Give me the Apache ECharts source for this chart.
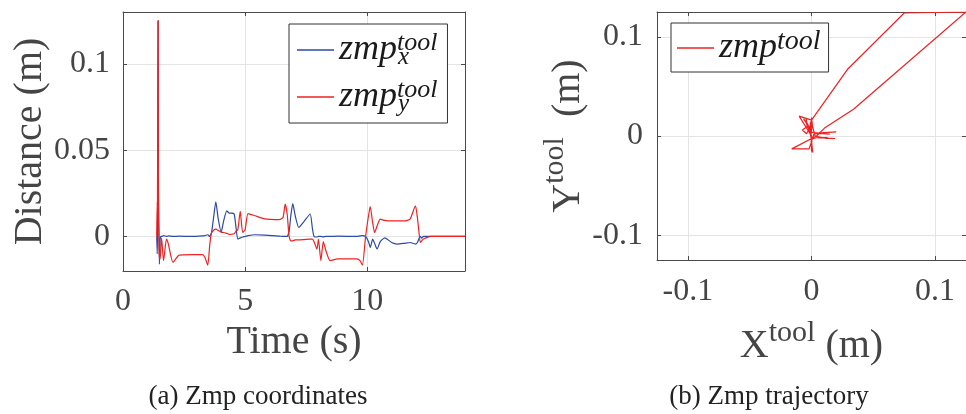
<!DOCTYPE html>
<html><head><meta charset="utf-8">
<script src="https://cdn.jsdelivr.net/npm/echarts@6/dist/echarts.min.js"></script>
<style>html,body{margin:0;padding:0;background:#fff}#c{width:966px;height:414px}</style>
</head><body><div id="c"></div>
<script>
// ---- data ----
const time = [
  1.38,1.40,1.41,1.42,1.43,1.44,1.45,1.46,1.47,1.49,
  1.52,1.55,1.58,1.66,1.78,1.85,2.05,2.30,2.80,3.25,
  3.35,3.47,3.55,3.62,3.70,3.80,3.90,4.02,4.12,4.25,
  4.35,4.45,4.55,4.62,4.70,4.80,4.90,5.00,5.12,5.40,
  5.80,6.40,6.55,6.64,6.72,6.80,6.87,6.95,7.05,7.20,
  7.40,7.66,7.75,7.82,7.94,8.00,8.10,8.20,8.30,8.48,
  8.79,9.58,9.70,9.80,9.93,10.05,10.12,10.22,10.30,10.40,
  10.53,10.72,11.00,11.22,11.50,11.75,11.97,12.05,12.12,12.17,
  12.23,12.30,12.60,13.20,14.00
];
const zmpX = [
  0,-0.010,0,0.029,0.075,0.125,0.034,0.0105,0.004,-0.016,
  -0.002,0,0,0.0005,0,0.0003,0,0.0002,0,0.0003,
  0.0005,0.001,0,0.002,0.010,0.020,0.010,0.0025,0.009,0.0148,
  0.0135,0.0135,0.013,0.006,-0.0015,-0.0008,-0.0003,0,0.0005,0.001,
  0.0008,0.0002,0,0,0,0.003,0.012,0.019,0.012,0.0052,
  0.0085,0.013,0.005,0,-0.0003,0,0,-0.0002,0,0,
  0.0002,0,0.0003,0.0005,0,-0.003,-0.0064,-0.0015,-0.004,-0.0073,
  -0.003,-0.0008,-0.0035,-0.0044,-0.004,-0.0035,-0.0044,-0.0035,-0.001,0,
  -0.001,0,0,0,0
];
const zmpY = [
  0,0.020,0.016,0.067,0.124,0.125,0.027,0.008,0,-0.013,
  -0.013,-0.006,-0.001,-0.014,-0.0015,-0.004,-0.015,-0.0108,-0.0105,-0.0105,
  -0.012,-0.0166,-0.005,0.002,0.0035,0.0042,0.0035,0.0025,0.0023,0.0018,
  0.0012,0.0013,0.0015,0.003,0.004,0.0145,0.0023,0.004,0.0132,0.012,
  0.0102,0.0098,0.011,0.0187,0.013,0.0,-0.0025,-0.0025,-0.002,-0.002,
  -0.0018,-0.0015,-0.0015,-0.003,-0.0073,-0.0015,-0.014,-0.003,-0.008,-0.014,
  -0.013,-0.013,-0.014,-0.0166,0,0.012,0.0173,0.008,0.0023,0.006,
  0.010,0.0093,0.009,0.009,0.009,0.010,0.0177,0.011,0.002,-0.0035,
  -0.0025,-0.0015,0,0,0
];
const timeTicks = [0, 5, 10];
const distTicks = [0, 0.05, 0.1];
const trajTicks = [-0.1, 0, 0.1];
const seriesNames = ['zmp_x^tool', 'zmp_y^tool', 'zmp^tool'];
const captions = ['(a) Zmp coordinates', '(b) Zmp trajectory'];

// ---- styling ----
const SERIF = '"Liberation Serif", "Times New Roman", serif';
const AXC = '#4a4a4a';
const LBL = '#454545';
const GRIDC = '#e4e4e4';
const BLUE = '#2c4aa6';
const RED = '#ee2222';

function valAxis(o) {
  const base = {
    type: 'value',
    gridIndex: o.grid,
    position: o.pos,
    min: o.min, max: o.max,
    axisLine: { show: true, onZero: false, lineStyle: { color: AXC, width: 1 } },
    axisTick: { show: true, inside: true, length: 4, customValues: o.ticks, lineStyle: { color: AXC } },
    axisLabel: { show: !!o.label, customValues: o.ticks, margin: o.margin || 14, fontFamily: SERIF, fontSize: 32, color: LBL,
                 formatter: v => String(+(+v).toFixed(3)) },
    splitLine: { show: !!o.split, lineStyle: { color: GRIDC, width: 1 } }
  };
  if (o.name) {
    base.name = o.name;
    base.nameLocation = 'middle';
    base.nameGap = o.nameGap;
    base.nameTextStyle = o.nameStyle;
  }
  return base;
}

const big = { fontFamily: SERIF, fontSize: 40, color: LBL, lineHeight: 56 };
const sup = { fontFamily: SERIF, fontSize: 30, color: LBL, lineHeight: 20, verticalAlign: 'top' };

const legRich = {
  m: { fontFamily: SERIF, fontStyle: 'italic', fontSize: 36, lineHeight: 40, color: '#1a1a1a' },
  sup: { fontFamily: SERIF, fontStyle: 'italic', fontSize: 26, lineHeight: 14, verticalAlign: 'top', color: '#1a1a1a', width: 1 },
  supw: { fontFamily: SERIF, fontStyle: 'italic', fontSize: 28, lineHeight: 14, verticalAlign: 'top', color: '#1a1a1a' },
  sub: { fontFamily: SERIF, fontStyle: 'italic', fontSize: 25, lineHeight: 16, verticalAlign: 'bottom', color: '#1a1a1a' },
  sp: { fontSize: 10, width: 36 }
};

const option = {
  animation: false,
  backgroundColor: '#fff',
  grid: [
    { left: 123, top: 12, width: 342, height: 259, containLabel: false },
    { left: 657, top: 12, width: 318, height: 248, containLabel: false }
  ],
  xAxis: [
    valAxis({ grid: 0, pos: 'bottom', min: 0, max: 14, ticks: timeTicks, label: true, split: true, margin: 15,
              name: 'Time (s)', nameGap: 48, nameStyle: { fontFamily: SERIF, fontSize: 40, color: LBL } }),
    valAxis({ grid: 0, pos: 'top', min: 0, max: 14, ticks: timeTicks }),
    valAxis({ grid: 1, pos: 'bottom', min: -0.125, max: 0.125, ticks: trajTicks, label: true, split: true, margin: 16,
              name: '{b|X}{s|tool}{b| (m)}', nameGap: 58, nameStyle: { rich: { b: big, s: sup } } }),
    valAxis({ grid: 1, pos: 'top', min: -0.125, max: 0.125, ticks: trajTicks })
  ],
  yAxis: [
    valAxis({ grid: 0, pos: 'left', min: -0.02, max: 0.13, ticks: distTicks, label: true, split: true, margin: 13,
              name: 'Distance (m)', nameGap: 69, nameStyle: { fontFamily: SERIF, fontSize: 40, color: LBL } }),
    valAxis({ grid: 0, pos: 'right', min: -0.02, max: 0.13, ticks: distTicks }),
    valAxis({ grid: 1, pos: 'left', min: -0.125, max: 0.125, ticks: trajTicks, label: true, split: true, margin: 14,
              name: '{b|Y}{s|tool}{b|  (m)}', nameGap: 60, nameStyle: { rich: { b: big, s: sup } } }),
    valAxis({ grid: 1, pos: 'right', min: -0.125, max: 0.125, ticks: trajTicks })
  ],
  legend: [
    {
      data: [seriesNames[0], seriesNames[1]], orient: 'vertical', left: 289, top: 24,
      icon: 'rect', padding: [6, 10, 6, 8], itemWidth: 37, itemHeight: 1.5, itemGap: 7,
      borderColor: '#333', borderWidth: 1, backgroundColor: '#fff', selectedMode: false,
      formatter: n => '{m|zmp}{sup|tool}{sub|' + n.charAt(4) + '}{sp| }',
      textStyle: { rich: legRich }
    },
    {
      data: [seriesNames[2]], orient: 'vertical', left: 671, top: 23,
      icon: 'rect', padding: [5, 8, 6, 6], itemWidth: 37, itemHeight: 1.5,
      borderColor: '#333', borderWidth: 1, backgroundColor: '#fff', selectedMode: false,
      formatter: () => '{m|zmp}{supw|tool}',
      textStyle: { rich: legRich }
    }
  ],
  series: [
    { name: seriesNames[0], type: 'line', xAxisIndex: 0, yAxisIndex: 0, symbol: 'none', smooth: 0.2,
      lineStyle: { color: BLUE, width: 1.2 }, itemStyle: { color: BLUE },
      data: time.map((t, i) => [t, zmpX[i]]), z: 3 },
    { name: seriesNames[1], type: 'line', xAxisIndex: 0, yAxisIndex: 0, symbol: 'none', smooth: 0.2,
      lineStyle: { color: RED, width: 1.2 }, itemStyle: { color: RED },
      data: time.map((t, i) => [t, zmpY[i]]), z: 4 },
    { name: seriesNames[2], type: 'line', xAxisIndex: 2, yAxisIndex: 2, symbol: 'none',
      lineStyle: { color: RED, width: 1.2 }, itemStyle: { color: RED },
      data: zmpX.map((x, i) => [x, zmpY[i]]) }
  ],
  graphic: [
    { type: 'text', x: 258, y: 397, style: { text: captions[0], font: '27px ' + SERIF, fill: '#222', align: 'center', verticalAlign: 'middle' } },
    { type: 'text', x: 769, y: 397, style: { text: captions[1], font: '27px ' + SERIF, fill: '#222', align: 'center', verticalAlign: 'middle' } }
  ]
};
const chart = echarts.init(document.getElementById('c'), null, { renderer: 'canvas' });
chart.setOption(option);
</script>
</body></html>
